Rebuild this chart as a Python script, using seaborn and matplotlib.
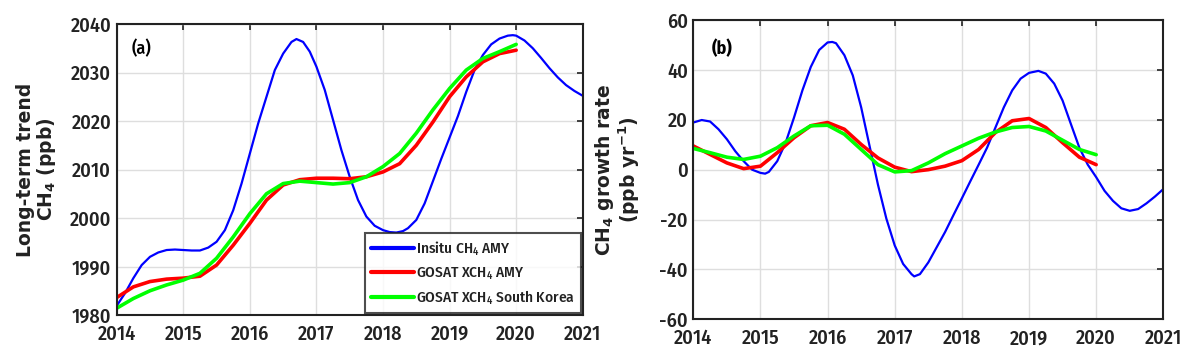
import numpy as np
import pandas as pd
import matplotlib
matplotlib.use("Agg")
import matplotlib.pyplot as plt
import seaborn as sns

# ---------------- data ----------------
# Panel (a): long-term trend (ppb)
t_insitu_a = [2014.0, 2014.125, 2014.25, 2014.375, 2014.5, 2014.625, 2014.75, 2014.875, 2015.0,
              2015.125, 2015.25, 2015.375, 2015.5, 2015.625, 2015.75, 2015.875, 2016.0,
              2016.125, 2016.25, 2016.375, 2016.5, 2016.625, 2016.7, 2016.8, 2016.9,
              2017.0, 2017.125, 2017.25, 2017.375, 2017.5, 2017.625, 2017.75, 2017.875,
              2018.0, 2018.1, 2018.2, 2018.3, 2018.375, 2018.5, 2018.625, 2018.75, 2018.875,
              2019.0, 2019.125, 2019.25, 2019.375, 2019.5, 2019.625, 2019.75, 2019.875,
              2019.95, 2020.0, 2020.125, 2020.25, 2020.375, 2020.5, 2020.625, 2020.75,
              2020.875, 2021.0]
insitu_a = [1981.9, 1984.5, 1987.6, 1990.3, 1992.0, 1992.9, 1993.4, 1993.5, 1993.4,
            1993.3, 1993.3, 1993.9, 1995.1, 1997.5, 2001.6, 2007.1, 2013.3,
            2019.5, 2025.0, 2030.5, 2033.9, 2036.3, 2036.9, 2036.3, 2034.3,
            2031.2, 2026.4, 2020.2, 2014.0, 2008.5, 2003.7, 2000.3, 1998.4,
            1997.5, 1997.1, 1997.0, 1997.3, 1997.9, 1999.6, 2003.0, 2007.6, 2012.2,
            2016.6, 2021.0, 2026.0, 2030.5, 2033.6, 2035.8, 2037.0, 2037.6,
            2037.7, 2037.6, 2036.6, 2035.0, 2033.0, 2030.9, 2029.0, 2027.4,
            2026.2, 2025.2]

t_gosat = [2014.0, 2014.25, 2014.5, 2014.75, 2015.0, 2015.25, 2015.5, 2015.75, 2016.0,
           2016.25, 2016.5, 2016.75, 2017.0, 2017.25, 2017.5, 2017.75, 2018.0, 2018.25,
           2018.5, 2018.75, 2019.0, 2019.25, 2019.5, 2019.75, 2020.0]
gosat_amy_a = [1983.6, 1985.8, 1986.9, 1987.4, 1987.6, 1988.0, 1990.3, 1994.4, 1998.9,
               2003.7, 2006.8, 2007.9, 2008.2, 2008.2, 2008.1, 2008.5, 2009.5, 2011.2,
               2015.0, 2019.8, 2025.0, 2029.1, 2032.2, 2033.9, 2034.6]
gosat_kor_a = [1981.4, 1983.4, 1985.0, 1986.2, 1987.2, 1988.6, 1991.7, 1996.1, 2000.9,
               2005.0, 2007.1, 2007.6, 2007.3, 2007.0, 2007.3, 2008.5, 2010.6, 2013.3,
               2017.5, 2022.3, 2026.7, 2030.5, 2032.9, 2034.3, 2035.8]

# Panel (b): growth rate (ppb/yr)
t_insitu_b = [2014.0, 2014.125, 2014.25, 2014.375, 2014.5, 2014.625, 2014.75, 2014.875,
              2015.0, 2015.07, 2015.125, 2015.25, 2015.375, 2015.5, 2015.625, 2015.75,
              2015.875, 2016.0, 2016.07, 2016.125, 2016.25, 2016.375, 2016.5, 2016.625,
              2016.75, 2016.875, 2017.0, 2017.125, 2017.25, 2017.29, 2017.375, 2017.5,
              2017.625, 2017.75, 2017.875, 2018.0, 2018.125, 2018.25, 2018.375, 2018.5,
              2018.625, 2018.75, 2018.875, 2019.0, 2019.14, 2019.25, 2019.375, 2019.5,
              2019.625, 2019.75, 2019.875, 2020.0, 2020.125, 2020.25, 2020.375, 2020.5,
              2020.625, 2020.75, 2020.875, 2021.0]
insitu_b = [18.9, 19.9, 19.3, 16.2, 12.2, 7.4, 3.4, 0.0,
            -1.3, -1.6, -0.9, 3.4, 10.8, 20.9, 31.8, 41.2,
            48.0, 51.0, 51.2, 50.7, 45.9, 37.8, 25.0, 9.5,
            -6.0, -19.6, -30.4, -37.8, -41.9, -42.8, -41.9, -37.2,
            -31.1, -25.0, -18.2, -11.5, -4.7, 2.0, 8.8, 16.9,
            25.0, 31.8, 36.5, 38.8, 39.6, 38.5, 34.5, 27.7,
            18.2, 8.8, 2.0, -3.0, -8.5, -12.5, -15.5, -16.5,
            -15.8, -13.5, -10.8, -7.8]
gosat_amy_b = [9.5, 6.1, 2.7, 0.4, 1.4, 6.8, 12.8, 17.6, 18.9,
               16.2, 10.1, 4.7, 1.0, -0.8, 0.0, 1.4, 3.6, 8.1,
               14.9, 19.6, 20.5, 16.9, 10.8, 5.0, 2.0]
gosat_kor_b = [8.5, 6.8, 5.0, 4.1, 5.4, 8.8, 13.5, 17.6, 17.8,
               14.2, 8.1, 2.0, -0.9, -0.4, 2.7, 6.4, 9.5, 12.6,
               15.1, 16.9, 17.3, 15.5, 11.8, 8.1, 6.0]

series_names = ["Insitu CH$_4$ AMY", "GOSAT XCH$_4$ AMY", "GOSAT XCH$_4$ South Korea"]
series_colors = ["#0000ff", "#ff0000", "#00ff00"]
xticks = [2014, 2015, 2016, 2017, 2018, 2019, 2020, 2021]
yticks_a = [1980, 1990, 2000, 2010, 2020, 2030, 2040]
yticks_b = [-60, -40, -20, 0, 20, 40, 60]

# ---------------- frames ----------------
def frame(ts, vals, name):
    return pd.DataFrame({"t": ts, "v": vals, "s": name})

df_a = pd.concat([frame(t_insitu_a, insitu_a, series_names[0]),
                  frame(t_gosat, gosat_amy_a, series_names[1]),
                  frame(t_gosat, gosat_kor_a, series_names[2])], ignore_index=True)
df_b = pd.concat([frame(t_insitu_b, insitu_b, series_names[0]),
                  frame(t_gosat, gosat_amy_b, series_names[1]),
                  frame(t_gosat, gosat_kor_b, series_names[2])], ignore_index=True)

sns.set_style("white")
COND = ["Fira Sans Condensed", "DejaVu Sans"]
plt.rcParams["font.family"] = COND
plt.rcParams["font.weight"] = 500
plt.rcParams["mathtext.fontset"] = "custom"
plt.rcParams["mathtext.rm"] = "Fira Sans Condensed:weight=500"
plt.rcParams["mathtext.bf"] = "DejaVu Sans:bold"
plt.rcParams["axes.unicode_minus"] = False

TXT = "#222222"

fig = plt.figure(figsize=(12.02, 3.61), dpi=100)
ax1 = fig.add_axes([0.0971, 0.1274, 0.3877, 0.8061])
ax2 = fig.add_axes([0.5768, 0.1155, 0.3910, 0.8291])

palette = dict(zip(series_names, series_colors))
widths = {series_names[0]: 1.6, series_names[1]: 2.6, series_names[2]: 2.6}

for ax, df in [(ax1, df_a), (ax2, df_b)]:
    for name in series_names:
        sub = df[df["s"] == name]
        sns.lineplot(data=sub, x="t", y="v", ax=ax, color=palette[name],
                     lw=widths[name], label=name, sort=True, estimator=None)

def style(ax, ylim, yticks):
    ax.set_xlim(2014, 2021)
    ax.set_ylim(*ylim)
    ax.set_xticks(xticks)
    ax.set_xticklabels([str(x) for x in xticks])
    ax.set_yticks(yticks)
    ax.set_yticklabels([str(y) for y in yticks])
    ax.grid(True, color="#dedede", lw=1.0)
    ax.set_axisbelow(True)
    ax.tick_params(direction="in", length=4, width=1.2, top=True, right=True,
                   labelsize=14.5, colors=TXT)
    ax.tick_params(axis="x", pad=7)
    ax.tick_params(axis="y", pad=4)
    for lab in ax.get_xticklabels() + ax.get_yticklabels():
        lab.set_fontweight(500)
    for sp in ax.spines.values():
        sp.set_visible(True)
        sp.set_color(TXT)
        sp.set_linewidth(1.5)
    ax.set_xlabel("")

style(ax1, (1980, 2040), yticks_a)
style(ax2, (-60, 60), yticks_b)

ylab_font = dict(family=["DejaVu Sans"], fontsize=13.5, fontweight="bold", color=TXT)
ax1.set_ylabel("Long-term trend\nCH$_\\mathbf{4}$ (ppb)", linespacing=1.0, **ylab_font)
ax1.yaxis.set_label_coords(-0.125, 0.5)
ax2.set_ylabel("CH$_\\mathbf{4}$ growth rate\n(ppb yr$^\\mathbf{-1}$)", linespacing=1.0, **ylab_font)
ax2.yaxis.set_label_coords(-0.11, 0.5)

ax1.text(0.033, 0.915, "(a)", transform=ax1.transAxes, fontsize=13, va="center", ha="left",
         color="black", family=COND, fontweight=500)
ax2.text(0.04, 0.905, "(b)", transform=ax2.transAxes, fontsize=13, va="center", ha="left",
         fontweight="bold", color="black", family=COND)

leg = ax1.legend(loc="lower right", frameon=True, fancybox=False,
                 prop={"family": COND, "size": 11, "weight": 500},
                 handlelength=2.8, handletextpad=0.15, borderpad=0.4, labelspacing=0.45,
                 borderaxespad=0.1)
leg.get_frame().set_edgecolor(TXT)
leg.get_frame().set_linewidth(1.5)
for t in leg.get_texts():
    t.set_color(TXT)
for line in leg.get_lines():
    line.set_linewidth(3)
if ax2.get_legend() is not None:
    ax2.get_legend().remove()

fig.savefig("out.png", dpi=100)
